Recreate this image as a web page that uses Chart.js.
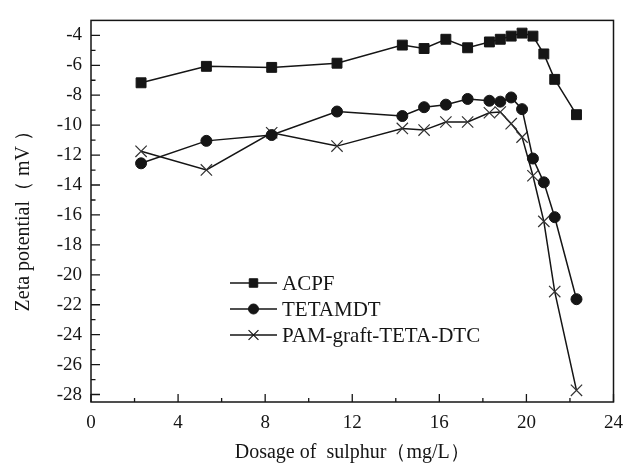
<!DOCTYPE html>
<html>
<head>
<meta charset="utf-8">
<script src="https://cdn.jsdelivr.net/npm/chart.js@4.4.1/dist/chart.umd.min.js"></script>
<style>
  html, body { margin: 0; padding: 0; background: #fff; }
</style>
</head>
<body>
<canvas id="zetaChart" width="633" height="474"></canvas>
<script>
// values
const dosage = [2.3, 5.3, 8.3, 11.3, 14.3, 15.3, 16.3, 17.3, 18.3, 18.8, 19.3, 19.8, 20.3, 20.8, 21.3, 22.3];
const acpf = [-7.17, -6.07, -6.14, -5.86, -4.65, -4.88, -4.26, -4.83, -4.44, -4.26, -4.05, -3.85, -4.05, -5.24, -6.94, -9.3];
const tetamdt = [-12.55, -11.05, -10.66, -9.09, -9.39, -8.8, -8.63, -8.25, -8.37, -8.43, -8.15, -8.93, -12.23, -13.82, -16.15, -21.63];
const pamTetaDtc = [-11.75, -12.99, -10.51, -11.4, -10.22, -10.33, -9.79, -9.79, -9.17, -9.12, -9.9, -10.8, -13.38, -16.43, -21.12, -27.72];
const seriesNames = ["ACPF", "TETAMDT", "PAM-graft-TETA-DTC"];
const xTicks = [0, 4, 8, 12, 16, 20, 24];
const xMinorTicks = [2, 6, 10, 14, 18, 22];
const yTicks = [-4, -6, -8, -10, -12, -14, -16, -18, -20, -22, -24, -26, -28];
const yMinorTicks = [-5, -7, -9, -11, -13, -15, -17, -19, -21, -23, -25, -27];

const ink = "#151515";
const serif = "'Liberation Serif', 'Times New Roman', serif";

function toPoints(ys) {
  return dosage.map((x, i) => ({ x: x, y: ys[i] }));
}

// frame + inward tick marks
const framePlugin = {
  id: "frame",
  afterDraw(chart) {
    const ctx = chart.ctx;
    const a = chart.chartArea;
    const xs = chart.scales.x;
    const ys = chart.scales.y;
    ctx.save();
    ctx.strokeStyle = ink;
    ctx.lineWidth = 1.5;
    ctx.strokeRect(a.left, a.top, a.right - a.left, a.bottom - a.top);
    ctx.lineWidth = 1.3;
    ctx.beginPath();
    xTicks.forEach((v) => {
      const px = xs.getPixelForValue(v);
      ctx.moveTo(px, a.bottom);
      ctx.lineTo(px, a.bottom - 8);
    });
    xMinorTicks.forEach((v) => {
      const px = xs.getPixelForValue(v);
      ctx.moveTo(px, a.bottom);
      ctx.lineTo(px, a.bottom - 4);
    });
    yTicks.forEach((v) => {
      const py = ys.getPixelForValue(v);
      ctx.moveTo(a.left, py);
      ctx.lineTo(a.left + 9, py);
    });
    yMinorTicks.forEach((v) => {
      const py = ys.getPixelForValue(v);
      ctx.moveTo(a.left, py);
      ctx.lineTo(a.left + 4.5, py);
    });
    ctx.stroke();
    ctx.restore();
  },
};

// legend drawn inside the plot
const insideLegend = {
  id: "insideLegend",
  afterDraw(chart) {
    const ctx = chart.ctx;
    const rowY = [283, 309, 335];
    const sizes = [6, 5, 7];
    ctx.save();
    chart.data.datasets.forEach((ds, i) => {
      const y = rowY[i];
      ctx.strokeStyle = ink;
      ctx.fillStyle = ink;
      ctx.lineWidth = 1.5;
      ctx.beginPath();
      ctx.moveTo(230, y);
      ctx.lineTo(277, y);
      ctx.stroke();
      ctx.lineWidth = ds.pointStyle === "crossRot" ? 1.2 : 1;
      Chart.helpers.drawPoint(ctx, { pointStyle: ds.pointStyle, radius: sizes[i], rotation: 0, borderWidth: ctx.lineWidth }, 253.5, y);
      ctx.font = "21px " + serif;
      ctx.textBaseline = "middle";
      ctx.textAlign = "left";
      ctx.fillText(ds.label, 282, y + 1);
    });
    ctx.restore();
  },
};

new Chart(document.getElementById("zetaChart"), {
  type: "line",
  data: {
    datasets: [
      {
        label: seriesNames[0],
        data: toPoints(acpf),
        borderColor: ink,
        backgroundColor: ink,
        borderWidth: 1.5,
        pointStyle: "rect",
        pointRadius: 7,
        pointBorderWidth: 1,
      },
      {
        label: seriesNames[1],
        data: toPoints(tetamdt),
        borderColor: ink,
        backgroundColor: ink,
        borderWidth: 1.5,
        pointStyle: "circle",
        pointRadius: 5.5,
        pointBorderWidth: 1,
      },
      {
        label: seriesNames[2],
        data: toPoints(pamTetaDtc),
        borderColor: ink,
        backgroundColor: ink,
        borderWidth: 1.5,
        pointStyle: "crossRot",
        pointRadius: 8,
        pointBorderWidth: 1.2,
        pointBorderColor: "#333",
      },
    ],
  },
  options: {
    responsive: false,
    animation: false,
    devicePixelRatio: 1,
    layout: { padding: { top: 13, right: 12, left: 0, bottom: 0 } },
    plugins: {
      legend: { display: false },
      tooltip: { enabled: false },
    },
    elements: { line: { tension: 0 } },
    scales: {
      x: {
        type: "linear",
        min: 0,
        max: 24,
        grid: { display: false, drawTicks: false },
        border: { display: false },
        afterBuildTicks: (axis) => {
          axis.ticks = xTicks.map((v) => ({ value: v }));
        },
        afterFit: (scale) => {
          scale.height = 72;
        },
        ticks: {
          color: ink,
          padding: 10,
          maxRotation: 0,
          font: { family: serif, size: 19 },
        },
        title: {
          display: true,
          text: "Dosage of  sulphur（mg/L）",
          color: ink,
          padding: { top: 4, bottom: 9 },
          font: { family: serif, size: 20 },
        },
      },
      y: {
        type: "linear",
        min: -28.5,
        max: -3,
        grid: { display: false, drawTicks: false },
        border: { display: false },
        afterBuildTicks: (axis) => {
          axis.ticks = yTicks.map((v) => ({ value: v }));
        },
        afterFit: (scale) => {
          scale.width = 91;
        },
        ticks: {
          color: ink,
          padding: 9,
          font: { family: serif, size: 19 },
        },
        title: {
          display: true,
          text: "Zeta potential（ mV ）  ",
          color: ink,
          padding: { top: 12, bottom: 4 },
          font: { family: serif, size: 20 },
        },
      },
    },
  },
  plugins: [framePlugin, insideLegend],
});
</script>
</body>
</html>
